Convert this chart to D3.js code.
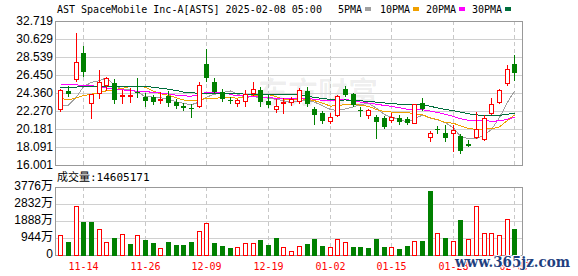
<!DOCTYPE html>
<html>
<head>
<meta charset="utf-8">
<script src="https://cdn.jsdelivr.net/npm/d3@7"></script>
<style>
  body { margin: 0; background: #fff; }
  svg { display: block; }
</style>
</head>
<body>
<div id="kline"></div>
<script>
// ---- data ----
var dates = ["11-11","11-12","11-13","11-14","11-15","11-18","11-19","11-20","11-21","11-22",
  "11-25","11-26","11-27","11-29","12-02","12-03","12-04","12-05","12-06","12-09",
  "12-10","12-11","12-12","12-13","12-16","12-17","12-18","12-19","12-20","12-23",
  "12-24","12-26","12-27","12-30","12-31","01-02","01-03","01-06","01-07","01-08",
  "01-10","01-13","01-14","01-15","01-16","01-17","01-21","01-22","01-23","01-24",
  "01-27","01-28","01-29","01-30","01-31","02-03","02-04","02-05","02-06","02-07"];

var opens = [22.54,24.59,26.02,28.97,23.23,24.39,25.29,25.49,24.08,24.05,
  24.52,23.93,23.84,23.63,24.05,23.26,22.85,22.60,22.85,27.73,
  25.67,24.51,23.53,23.16,23.43,24.33,24.71,23.47,22.50,23.16,
  23.35,23.43,24.59,22.50,22.07,21.14,21.77,24.82,24.24,22.44,
  21.77,21.54,21.42,21.22,21.42,21.34,20.91,23.23,19.22,20.20,
  19.68,19.68,19.37,18.40,19.29,18.98,22.00,23.28,25.49,27.73];
var highs = [24.82,25.17,31.36,29.85,24.25,27.03,26.25,25.99,24.71,24.90,
  26.07,24.32,24.13,24.44,24.63,23.72,23.16,23.08,25.67,29.47,
  26.07,24.79,23.93,23.63,24.71,25.60,25.02,24.13,23.63,23.74,
  23.86,24.90,25.02,22.70,22.27,22.00,24.09,25.17,24.32,22.77,
  22.47,21.81,21.69,22.07,21.81,21.61,23.08,23.81,19.95,20.56,
  20.65,20.65,19.60,18.90,22.19,21.81,23.74,24.77,27.61,28.77];
var lows = [22.30,23.98,25.79,26.37,21.49,23.81,24.71,23.23,23.23,23.35,
  23.90,22.89,23.08,23.23,22.85,22.58,22.39,21.61,22.70,25.79,
  24.33,23.43,23.16,22.85,22.85,24.13,22.85,22.77,22.12,22.07,
  22.97,23.16,22.85,20.76,20.91,20.91,21.69,24.05,22.85,21.69,
  21.42,19.17,20.26,21.03,20.76,20.72,20.87,22.39,18.82,19.75,
  18.82,17.66,17.43,18.24,19.10,18.90,21.92,23.23,25.29,25.87];
var closes = [24.71,24.28,27.92,26.83,24.21,25.67,26.07,23.55,24.15,24.10,
  24.45,23.43,23.35,23.70,23.23,22.87,22.65,22.55,25.29,26.07,
  24.51,23.63,23.45,23.50,24.21,24.79,23.35,22.97,22.85,23.35,
  23.63,24.71,23.08,21.80,21.14,21.54,24.01,24.13,22.97,22.42,
  22.38,21.03,20.45,21.54,21.03,20.84,23.05,22.50,19.68,20.16,
  19.10,20.06,17.66,18.24,20.14,21.42,23.08,24.71,27.11,26.64];
var prevClose = 23.0;

// volume in 万 shares
var volumes = [1094,740,2703,1851,1851,1425,722,944,1147,611,
  1094,833,666,370,722,555,555,730,1333,1777,
  666,500,389,426,666,666,833,555,944,426,
  204,500,611,888,500,426,888,722,444,444,
  389,888,470,426,333,500,777,777,3554,1222,
  944,777,1944,870,2721,1222,1222,1094,1981,1460.5];
var lastVolume = 14605171;

var ma5 = [22.85,22.95,23.90,25.10,25.59,25.78,26.14,25.27,24.73,24.71,
  24.46,23.93,23.89,23.81,23.63,23.32,23.16,23.00,23.32,23.89,
  24.21,24.41,24.59,24.23,23.87,23.92,23.86,23.76,23.63,23.46,
  23.23,23.50,23.52,23.31,22.87,22.45,22.31,22.52,22.76,23.02,
  23.18,22.58,21.85,21.56,21.29,20.98,21.38,21.79,21.42,21.25,
  20.90,20.30,19.33,19.04,19.04,19.50,20.11,21.52,23.29,24.59];
var ma10 = [23.75,23.55,23.80,24.05,24.22,24.42,24.62,24.75,24.90,25.15,
  25.12,25.04,24.58,24.27,24.10,23.80,23.55,23.45,23.56,23.76,
  23.77,23.79,23.80,23.77,23.87,24.06,24.13,24.18,23.93,23.66,
  23.57,23.68,23.64,23.47,23.17,22.84,22.91,23.02,23.04,22.94,
  22.81,22.44,22.18,22.15,22.14,22.07,21.97,21.81,21.48,21.27,
  20.94,20.84,20.56,20.23,20.14,20.20,20.20,20.43,21.17,21.82];
var ma20 = [25.40,25.40,25.30,25.25,25.20,25.10,24.95,24.80,24.72,24.65,
  24.55,24.50,24.45,24.35,24.25,24.10,24.02,24.00,24.20,24.45,
  24.44,24.41,24.19,24.02,24.02,23.98,23.84,23.81,23.75,23.71,
  23.67,23.73,23.72,23.62,23.52,23.45,23.52,23.60,23.48,23.30,
  23.19,23.06,22.91,22.81,22.65,22.46,22.44,22.42,22.26,22.10,
  21.87,21.64,21.37,21.19,21.14,21.14,21.09,21.12,21.32,21.54];
var ma30 = [24.95,25.00,25.05,25.10,25.12,25.15,25.17,25.17,25.17,25.17,
  25.17,25.12,25.02,24.92,24.80,24.65,24.47,24.38,24.33,24.31,
  24.30,24.28,24.27,24.25,24.24,24.24,24.23,24.22,24.20,24.19,
  24.15,24.17,24.01,23.84,23.74,23.60,23.53,23.55,23.51,23.45,
  23.38,23.30,23.20,23.13,23.06,22.99,23.01,23.00,22.82,22.62,
  22.44,22.32,22.13,21.95,21.82,21.70,21.70,21.75,21.90,22.00];

var priceTicks = [32.719,30.629,28.539,26.450,24.360,22.270,20.181,18.091,16.001];
var volTicks = [3776,2832,1888,944,0];
var dateTicks = ["11-14","11-26","12-09","12-19","01-02","01-15","01-28","02-07"];
var maNames = ["5PMA","10PMA","20PMA","30PMA"];
var maColors = ["#a0a0a0","#f0a000","#ff00ff","#006e3c"];
var title = "AST SpaceMobile Inc-A[ASTS] 2025-02-08 05:00";

var UP = "#ff0000", DOWN = "#008000";
var MONO = "'DejaVu Sans Mono', monospace";
var SANS = "'Liberation Sans', Arial, 'Noto Sans CJK SC', sans-serif";

// ---- layout ----
var left = 55, right = 522,
    pTop = 21, pBot = 165,
    vTop = 187, vBot = 255;

var svg = d3.select("#kline").append("svg")
    .attr("width", 578)
    .attr("height", 276);

var x = d3.scaleBand().domain(dates).range([56.4, 518.2]);
function cx(d) { return Math.round(x(d) + x.bandwidth() / 2); }

var y = d3.scaleLinear().domain([16.001, 32.719]).range([pBot, pTop]);
var yv = d3.scaleLinear().domain([0, 3776]).range([vBot, vTop]);

function snap(v) { return Math.round(v) + 0.5; }

// watermark behind everything
svg.append("text")
    .attr("x", 258).attr("y", 103)
    .attr("textLength", 120).attr("lengthAdjust", "spacingAndGlyphs")
    .style("font-family", "'Noto Sans CJK SC'")
    .style("font-size", "30px").style("font-weight", "bold")
    .attr("fill", "#000").attr("fill-opacity", 0.07)
    .text("东方财富");

// horizontal grid
svg.append("g").selectAll("line").data(priceTicks).enter().append("line")
    .attr("x1", left).attr("x2", right)
    .attr("y1", function(d) { return snap(y(d)); })
    .attr("y2", function(d) { return snap(y(d)); })
    .attr("stroke", "#d0d0d0");
svg.append("g").selectAll("line").data(volTicks).enter().append("line")
    .attr("x1", left).attr("x2", right)
    .attr("y1", function(d) { return snap(yv(d)); })
    .attr("y2", function(d) { return snap(yv(d)); })
    .attr("stroke", "#d0d0d0");

// vertical dashed grid, both panels
[[pTop, pBot], [vTop, vBot]].forEach(function(r) {
  svg.append("g").selectAll("line").data(dateTicks).enter().append("line")
      .attr("x1", function(d) { return cx(d) + 0.5; })
      .attr("x2", function(d) { return cx(d) + 0.5; })
      .attr("y1", r[0]).attr("y2", r[1])
      .attr("stroke", "#c8c8c8")
      .attr("stroke-dasharray", "4,3");
});

// frames
svg.append("rect").attr("x", left + 0.5).attr("y", pTop + 0.5)
    .attr("width", right - left).attr("height", pBot - pTop)
    .attr("fill", "none").attr("stroke", "#999");
svg.append("rect").attr("x", left + 0.5).attr("y", vTop + 0.5)
    .attr("width", right - left).attr("height", vBot - vTop)
    .attr("fill", "none").attr("stroke", "#999");

// moving averages
var maData = [ma5, ma10, ma20, ma30];
maData.forEach(function(arr, k) {
  var line = d3.line()
      .x(function(d, i) { return cx(dates[i]) + 0.5; })
      .y(function(d) { return y(d); });
  svg.append("path").datum(arr)
      .attr("d", line)
      .attr("fill", "none")
      .attr("stroke", maColors[k])
      .attr("stroke-width", 1)
      .attr("shape-rendering", "crispEdges");
});

// candles
var candles = svg.append("g").selectAll("g").data(dates).enter().append("g");
candles.each(function(d, i) {
  var g = d3.select(this);
  var up = closes[i] >= opens[i];
  var col = up ? UP : DOWN;
  var xc = cx(d);
  g.append("line")
      .attr("x1", xc + 0.5).attr("x2", xc + 0.5)
      .attr("y1", Math.round(y(highs[i]))).attr("y2", Math.round(y(lows[i])) + 1)
      .attr("stroke", col);
  var top = Math.round(y(Math.max(opens[i], closes[i])));
  var bot = Math.round(y(Math.min(opens[i], closes[i])));
  if (up) {
    g.append("rect")
        .attr("x", xc - 2 + 0.5).attr("y", top + 0.5)
        .attr("width", 4).attr("height", Math.max(bot - top, 1))
        .attr("fill", "#fff").attr("stroke", col);
  } else {
    g.append("rect")
        .attr("x", xc - 2).attr("y", top)
        .attr("width", 5).attr("height", Math.max(bot - top, 1))
        .attr("fill", col);
  }
});

// volume bars (colour by change from previous close)
svg.append("g").selectAll("rect").data(dates).enter().append("rect")
    .each(function(d, i) {
      var prev = i === 0 ? prevClose : closes[i - 1];
      var up = closes[i] >= prev;
      var xc = cx(d);
      var t = Math.round(yv(volumes[i]));
      var r = d3.select(this);
      if (up) {
        r.attr("x", xc - 2 + 0.5).attr("y", t + 0.5)
         .attr("width", 4).attr("height", vBot - t)
         .attr("fill", "#fff").attr("stroke", UP);
      } else {
        r.attr("x", xc - 2).attr("y", t)
         .attr("width", 5).attr("height", vBot - t + 1)
         .attr("fill", DOWN);
      }
    });

// y axes
var ay = svg.append("g")
    .attr("transform", "translate(" + left + ",0)")
    .call(d3.axisLeft(y).tickValues(priceTicks).tickSize(0).tickPadding(2)
      .tickFormat(d3.format(".3f")));
var av = svg.append("g")
    .attr("transform", "translate(" + left + ",-1)")
    .call(d3.axisLeft(yv).tickValues(volTicks).tickSize(0).tickPadding(2)
      .tickFormat(function(d) { return d === 0 ? "0" : d + "万"; }));
[ay, av].forEach(function(a) {
  a.select(".domain").remove();
  a.selectAll("text")
      .style("font-family", SANS)
      .style("font-size", "12px")
      .attr("fill", "#000");
});

// x axis labels
var ax = svg.append("g")
    .attr("transform", "translate(0," + vBot + ")")
    .call(d3.axisBottom(x).tickValues(dateTicks).tickSize(0).tickPadding(0));
ax.select(".domain").remove();
ax.selectAll(".tick").attr("transform", function(d) {
  return "translate(" + (cx(d) + 0.5) + ",0)";
});
ax.selectAll("text")
    .attr("y", 15).attr("dy", 0)
    .style("font-family", MONO)
    .style("font-size", "10px")
    .attr("fill", UP);

// title and legend
svg.append("text")
    .attr("x", 57).attr("y", 12.5)
    .style("font-family", MONO).style("font-size", "10px")
    .attr("fill", "#000")
    .text(title);

var legendX = [338, 380, 426, 472];
maNames.forEach(function(n, k) {
  svg.append("text")
      .attr("x", legendX[k]).attr("y", 12.5)
      .style("font-family", MONO).style("font-size", "10px")
      .attr("fill", "#000")
      .text(n);
  svg.append("rect")
      .attr("x", legendX[k] + n.length * 6 + 3).attr("y", 7)
      .attr("width", 6).attr("height", 4)
      .attr("fill", maColors[k]);
});

// volume caption
var cap = svg.append("text").attr("x", 57).attr("y", 181)
    .attr("fill", "#000").style("font-size", "11px");
cap.append("tspan").style("font-family", "'Noto Sans CJK SC'").text("成交量");
cap.append("tspan").style("font-family", MONO).text(":" + lastVolume);

// site watermark
svg.append("text")
    .attr("x", 455).attr("y", 267)
    .attr("textLength", 115).attr("lengthAdjust", "spacingAndGlyphs")
    .style("font-family", "'DejaVu Serif', serif")
    .style("font-size", "14px").style("font-weight", "bold")
    .attr("fill", "#1f3f7f")
    .attr("stroke", "#fff").attr("stroke-width", 2)
    .attr("paint-order", "stroke")
    .text("www.365jz.com");
</script>
</body>
</html>
